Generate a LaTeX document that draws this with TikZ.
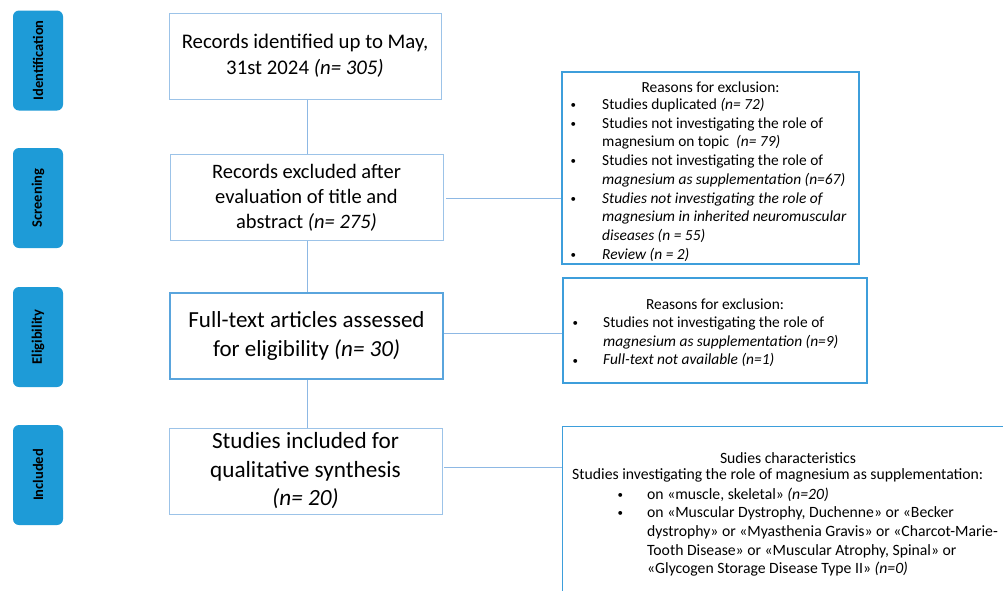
\documentclass[tikz,border=0pt]{standalone}
\usepackage{fontspec}
\setmainfont{Carlito}
\definecolor{tabblue}{HTML}{1E9BD7}
\definecolor{boxline}{HTML}{9CC3E8}
\definecolor{boxstrong}{HTML}{5AA5DD}
\definecolor{rline}{HTML}{3D9EDB}
\definecolor{conn}{HTML}{8DB8E4}
\newcommand\sbul{\raisebox{0.8pt}{\fontsize{11}{11}\selectfont\textbullet}}
\begin{document}
\begin{tikzpicture}[x=1pt,y=-1pt,
  tab/.style={fill=tabblue, rounded corners=6pt, minimum width=50pt, minimum height=100pt, inner sep=0pt},
  tabtext/.style={rotate=90, font=\fontsize{14.5}{16}\selectfont\bfseries, text=black},
  mainbox/.style={draw=boxline, line width=1pt, minimum width=273pt, minimum height=86pt, align=center, inner sep=0pt},
  rbox/.style={draw=rline, line width=1.4pt, inner sep=0pt},
  rtext/.style={font=\fontsize{15.4}{18.7}\selectfont, inner sep=0pt},
  conline/.style={draw=conn, line width=1pt}
]
\useasboundingbox (0,0) rectangle (1003,590);
\clip (0,0) rectangle (1003,590);
\fill[white] (0,0) rectangle (1003,590);

% side tabs
\node[tab] (t1) at (38,60.5) {};
\node[tabtext] (t1l) at (t1.center) {Identification};
\node[tab] (t2) at (38,198) {};
\node[tabtext] (t2l) at (t2.center) {Screening};
\node[tab] (t3) at (38,337) {};
\node[tabtext] (t3l) at (t3.center) {Eligibility};
\node[tab] (t4) at (38,475) {};
\node[tabtext] (t4l) at (t4.center) {Included};

% main boxes
\node[mainbox, minimum width=272pt, font=\fontsize{20.8}{26}\selectfont] (b1) at (305,56)
  {Records identified up to May,\\31st 2024 \textit{(n= 305)}};
\node[mainbox, font=\fontsize{20.5}{25}\selectfont] (b2) at (306.5,197.5)
  {Records excluded after\\evaluation of title and\\abstract \textit{(n= 275)}};
\node[mainbox, draw=boxstrong, line width=1.8pt, font=\fontsize{23}{29}\selectfont] (b3) at (306.5,336)
  {Full-text articles assessed\\for eligibility \textit{(n= 30)}};
\node[mainbox, font=\fontsize{23.2}{28.5}\selectfont] (b4) at (305.5,471)
  {Studies included for\\qualitative synthesis\\\textit{(n= 20)}};

% right boxes
\node[rbox, minimum width=297pt, minimum height=192pt] (r1) at (710.5,168) {};
\node[rbox, minimum width=304pt, minimum height=105pt] (r2) at (715,330.5) {};
\node[rbox, minimum width=460pt, minimum height=200pt, anchor=north west] (r3) at (562,426) {};

% connectors
\draw[conline] (b1.south -| 307,0) -- (b2.north -| 307,0);
\draw[conline] (b2.south -| 307,0) -- (b3.north -| 307,0);
\draw[conline] (b3.south -| 307,0) -- (b4.north -| 307,0);
\coordinate (c1) at (446,198);
\coordinate (c2) at (444,333);
\coordinate (c3) at (444,467);
\draw[conline] (c1) -- (c1 -| r1.west);
\draw[conline] (c2) -- (c2 -| r2.west);
\draw[conline] (c3) -- (c3 -| r3.west);

% R1 text
\node[rtext, anchor=base] (r1t) at (710.5,92.5) {Reasons for exclusion:};
\node[rtext, anchor=base west] (r1l) at (570.5,109.5) {%
\begin{tabular}[t]{@{}p{31.5pt}@{}l@{}}
\sbul & Studies duplicated \textit{(n= 72)}\\
\sbul & Studies not investigating the role of\\
 & magnesium on topic\ \ \textit{(n= 79)}\\
\sbul & Studies not investigating the role of\\
 & \textit{magnesium as supplementation (n=67)}\\
\sbul & \textit{Studies not investigating the role of}\\
 & \textit{magnesium in inherited neuromuscular}\\
 & \textit{diseases (n = 55)}\\
\sbul & \textit{Review (n = 2)}
\end{tabular}};

% R2 text
\node[rtext, anchor=base] (r2t) at (715,309.5) {Reasons for exclusion:};
\node[rtext, anchor=base west] (r2l) at (572.5,327.5) {%
\begin{tabular}[t]{@{}p{30.5pt}@{}l@{}}
\sbul & Studies not investigating the role of\\
 & \textit{magnesium as supplementation (n=9)}\\
\sbul & \textit{Full-text not available (n=1)}
\end{tabular}};

% R3 text
\begin{scope}[rtext/.append style={font=\fontsize{15.7}{18.7}\selectfont}]
\node[rtext, anchor=base] (r3t) at (788,463.5) {Sudies characteristics};
\node[rtext, anchor=base west] (r3s) at (572,479.5) {Studies investigating the role of magnesium as supplementation:};
\node[rtext, anchor=base west] (r3l) at (617.5,499) {%
\begin{tabular}[t]{@{}p{29.5pt}@{}l@{}}
\sbul & on «muscle, skeletal» \textit{(n=20)}\\
\sbul & on «Muscular Dystrophy, Duchenne» or «Becker\\
 & dystrophy» or «Myasthenia Gravis» or «Charcot-Marie-\\
 & Tooth Disease» or «Muscular Atrophy, Spinal» or\\
 & «Glycogen Storage Disease Type II» \textit{(n=0)}
\end{tabular}};
\end{scope}
\end{tikzpicture}
\end{document}
